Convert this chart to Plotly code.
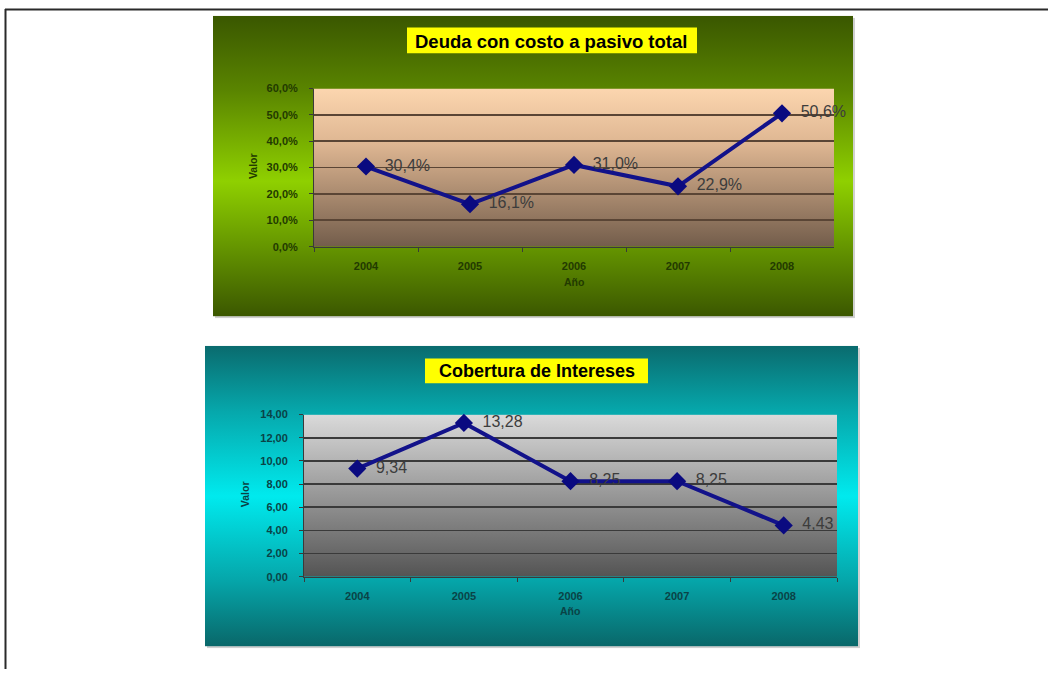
import base64
import plotly.graph_objects as go

# ---- data ----
years = ["2004", "2005", "2006", "2007", "2008"]
deuda_ratio = [0.304, 0.161, 0.310, 0.229, 0.506]
cobertura = [9.34, 13.28, 8.25, 8.25, 4.43]

title_top = "Deuda con costo a pasivo total"
title_bottom = "Cobertura de Intereses"
y_label = "Valor"
x_label = "Año"

W, H = 1048, 675
FONT = "Arial, Liberation Sans, sans-serif"
GAP = "\u00a0\u00a0"  # small gap between a point and its value label


def px(x):
    return x / W


def py(y):
    return 1 - y / H


def vgrad(stops):
    """Vertical linear gradient as an SVG data URI."""
    parts = "".join(f'<stop offset="{o}" stop-color="{c}"/>' for o, c in stops)
    svg = (
        '<svg xmlns="http://www.w3.org/2000/svg" width="100" height="100" '
        'viewBox="0 0 100 100" preserveAspectRatio="none">'
        '<defs><linearGradient id="g" x1="0" y1="0" x2="0" y2="1">'
        f"{parts}</linearGradient></defs>"
        '<rect x="0" y="0" width="100" height="100" fill="url(#g)"/></svg>'
    )
    return "data:image/svg+xml;base64," + base64.b64encode(svg.encode()).decode()


def bg_image(stops, x0, y0, x1, y1):
    return dict(
        source=vgrad(stops), xref="paper", yref="paper",
        x=px(x0), y=py(y0), sizex=(x1 - x0) / W, sizey=(y1 - y0) / H,
        xanchor="left", yanchor="top", sizing="stretch", layer="below",
    )


green_panel = [(0, "#3a5700"), (0.25, "#5a8500"), (0.55, "#8fd000"),
               (0.8, "#5f8d00"), (1, "#3b5700")]
peach_plot = [(0, "#fcd6af"), (0.35, "#deb692"), (1, "#735d4b")]
teal_panel = [(0, "#0a6b6e"), (0.22, "#06a8ac"), (0.5, "#00eaee"),
              (0.78, "#05a6aa"), (1, "#096769")]
gray_plot = [(0, "#dadada"), (1, "#545454")]
shadow = [(0, "#d0d0d0"), (1, "#d0d0d0")]

# panel shadows, panel fills and plot-area fills, back to front
images = [
    bg_image(shadow, 215, 12, 855, 318),
    bg_image(green_panel, 213, 10, 853, 316),
    bg_image(peach_plot, 314, 84, 834, 245),
    bg_image(shadow, 207, 348, 860, 654),
    bg_image(teal_panel, 205, 346, 858, 652),
    bg_image(gray_plot, 304, 416, 837, 581),
]

fig = go.Figure()

for ys, xa, ya, fmt in [(deuda_ratio, "x", "y", "%{y:.1%}"),
                        (cobertura, "x2", "y2", "%{y:.2f}")]:
    fig.add_trace(go.Scatter(
        x=years, y=ys, xaxis=xa, yaxis=ya,
        mode="lines+markers+text",
        line=dict(color="#12128a", width=4),
        marker=dict(symbol="diamond", size=14, color="#0a0a80"),
        texttemplate=GAP + fmt, textposition="middle right",
        textfont=dict(family=FONT, size=16, color="#3c3c3c"),
        cliponaxis=False, showlegend=False, hoverinfo="skip",
    ))

green_txt = "#223a00"
teal_txt = "#0a4346"


def xaxis_style(domain, color):
    return dict(
        domain=domain, type="category", range=[-0.5, 4.5],
        showgrid=False, zeroline=False, showline=True, linecolor="#3a3a3a",
        linewidth=1, ticks="outside", tickson="boundaries", ticklen=4,
        tickcolor="#3a3a3a", ticklabelstandoff=9,
        tickfont=dict(family=FONT, size=11, color=color, weight="bold"),
        fixedrange=True,
    )


def yaxis_style(domain, rng, dtick, fmt, color, gridcolor):
    return dict(
        domain=domain, range=rng, dtick=dtick, tickformat=fmt,
        showgrid=True, gridcolor=gridcolor, gridwidth=1.6, zeroline=False,
        showline=True, linecolor="#3a3a3a", linewidth=1, ticks="outside",
        ticklen=4, tickcolor="#3a3a3a", ticklabelstandoff=9,
        tickfont=dict(family=FONT, size=11, color=color, weight="bold"),
        fixedrange=True,
    )


shapes = [
    # page frame
    dict(type="line", xref="paper", yref="paper", x0=px(5), x1=1, y0=py(3.5), y1=py(3.5),
         line=dict(color="#2a2a2a", width=2)),
    dict(type="line", xref="paper", yref="paper", x0=px(5.5), x1=px(5.5), y0=py(3), y1=0,
         line=dict(color="#2a2a2a", width=2)),
    # title boxes
    dict(type="rect", xref="paper", yref="paper", x0=px(407), x1=px(697), y0=py(48), y1=py(22),
         fillcolor="#ffff00", line=dict(width=0), layer="below"),
    dict(type="rect", xref="paper", yref="paper", x0=px(425), x1=px(648), y0=py(384), y1=py(359),
         fillcolor="#ffff00", line=dict(width=0), layer="below"),
]


def ann(text, x, y, size, color, angle=0):
    return dict(text=text, xref="paper", yref="paper", x=px(x), y=py(y),
                xanchor="center", yanchor="middle", showarrow=False, textangle=angle,
                font=dict(family=FONT, size=size, color=color, weight="bold"))


annotations = [
    ann(title_top, 551, 36, 18.5, "#000000"),
    ann(title_bottom, 536.5, 372, 18, "#000000"),
    ann(y_label, 253, 163, 10.5, green_txt, -90),
    ann(x_label, 574, 281, 10.5, green_txt),
    ann(y_label, 245, 497, 10.5, teal_txt, -90),
    ann(x_label, 570, 616, 10.5, teal_txt),
]

fig.update_layout(
    width=W, height=H, autosize=False,
    margin=dict(l=0, r=0, t=0, b=0),
    paper_bgcolor="#ffffff", plot_bgcolor="rgba(0,0,0,0)",
    separators=",.",
    xaxis=dict(anchor="y", **xaxis_style([px(314), px(834)], green_txt)),
    yaxis=dict(anchor="x", **yaxis_style([py(245), py(84)], [0, 0.6], 0.1, ".1%",
                                         green_txt, "#5a4535")),
    xaxis2=dict(anchor="y2", **xaxis_style([px(304), px(837)], teal_txt)),
    yaxis2=dict(anchor="x2", **yaxis_style([py(581), py(416)], [0, 14], 2, ".2f",
                                           teal_txt, "#3a3a3a")),
    images=images, shapes=shapes, annotations=annotations,
)

fig.write_html("out.html", config=dict(displayModeBar=False, staticPlot=True))
